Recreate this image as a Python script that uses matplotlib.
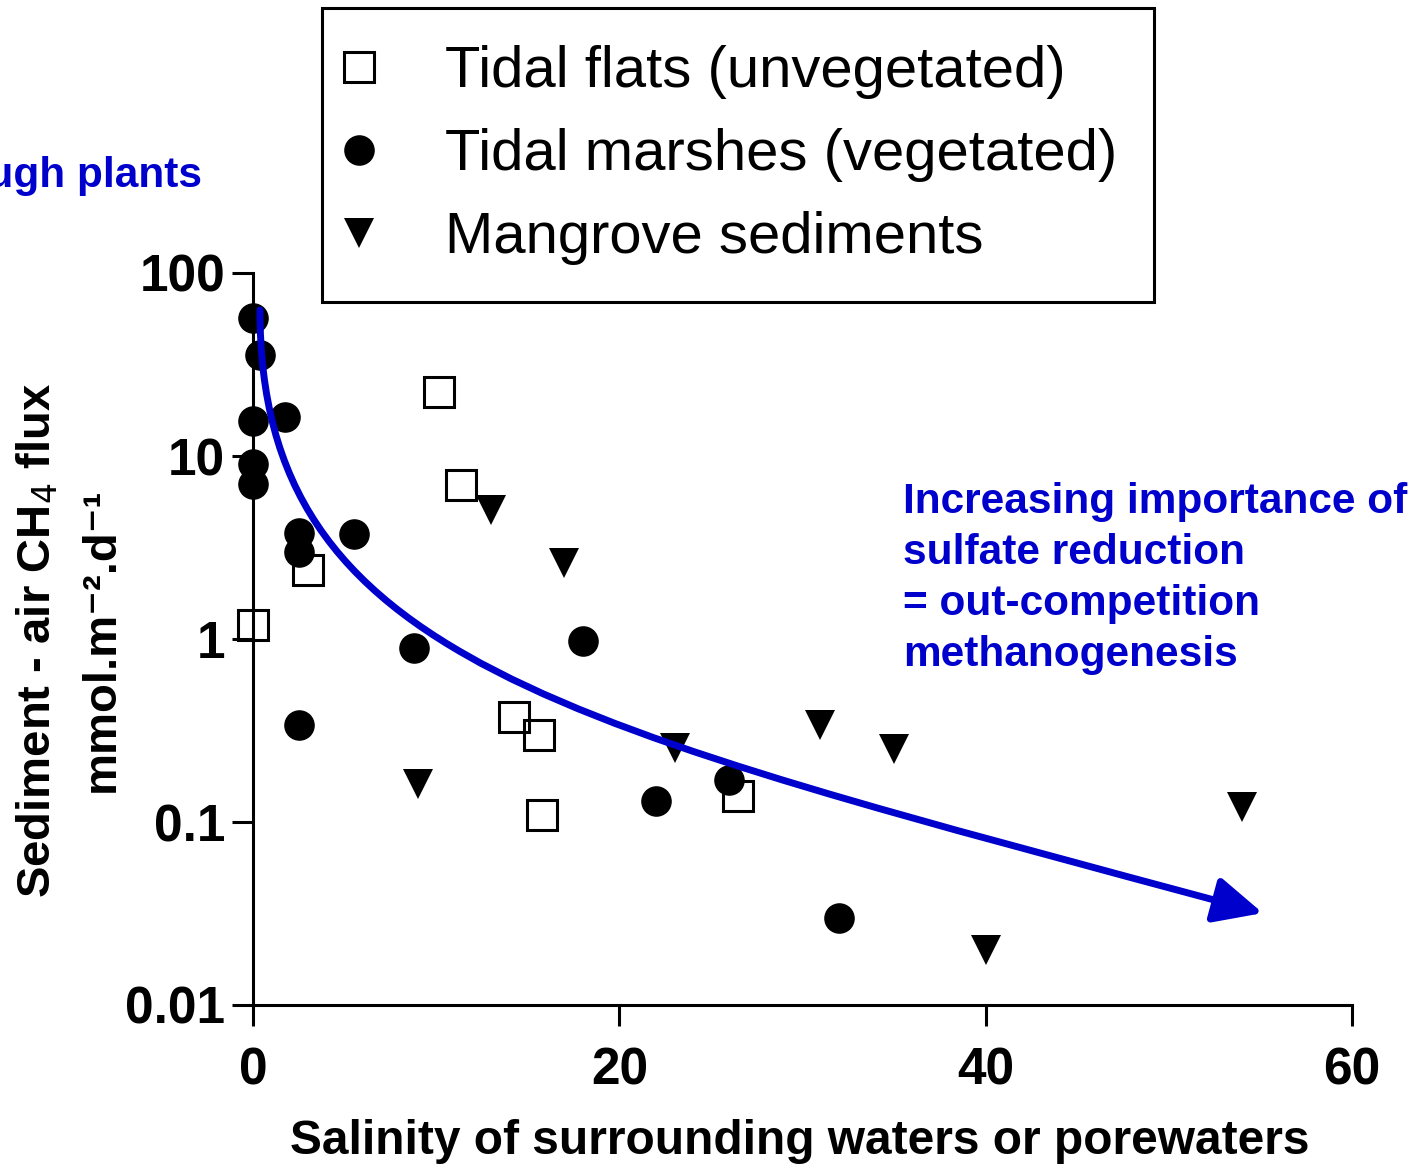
import matplotlib
matplotlib.use("Agg")
import matplotlib.pyplot as plt
from matplotlib.lines import Line2D
from matplotlib.patches import FancyArrowPatch
from matplotlib.path import Path
from matplotlib.ticker import FixedLocator, FixedFormatter, NullLocator

plt.rcParams["font.family"] = ["Liberation Sans", "DejaVu Sans"]

BLUE = "#0000CC"

# salinity / CH4 flux (mmol m-2 d-1)
flats_sal = [0.0, 10.15, 11.35, 3.0, 14.25, 15.6, 15.8, 26.5]
flats_flux = [1.19, 22.4, 6.95, 2.38, 0.375, 0.30, 0.109, 0.139]

marsh_sal = [0.0, 0.4, 1.75, 0.0, 0.0, 0.0, 2.5, 2.5, 5.5, 8.8, 18.0, 2.5, 22.0, 26.0, 32.0]
marsh_flux = [56.8, 35.7, 16.3, 15.5, 9.0, 7.0, 3.8, 3.0, 3.75, 0.89, 0.975, 0.34, 0.13, 0.17, 0.030]

mangrove_sal = [13.0, 17.0, 9.0, 23.05, 30.95, 35.0, 54.0, 40.0]
mangrove_flux = [5.07, 2.60, 0.161, 0.254, 0.339, 0.25, 0.121, 0.020]

labels = ["Tidal flats (unvegetated)", "Tidal marshes (vegetated)", "Mangrove sediments"]

# trend arrow as a cubic bezier (salinity, flux)
trend_sal = [0.38, 0.38, 16.65, 55.13]
trend_flux = [62.8, 0.767, 0.348, 0.0318]

x_ticks = [0, 20, 40, 60]
y_ticks = [0.01, 0.1, 1, 10, 100]
y_ticklabels = ["0.01", "0.1", "1", "10", "100"]

W, H = 1425, 1169


def fx(x):
    return x / W


def fy(y):
    return 1 - y / H


fig = plt.figure(figsize=(W / 100, H / 100), dpi=100)
ax = fig.add_axes([fx(253), fy(1005), fx(1352) - fx(253), fy(273) - fy(1005)])

ms = 21
ax.plot(flats_sal, flats_flux, ls="none", marker="s", ms=ms, mfc="none",
        mec="black", mew=2.2, clip_on=False, zorder=3)
ax.plot(marsh_sal, marsh_flux, ls="none", marker="o", ms=ms, mfc="black",
        mec="black", clip_on=False, zorder=4)
ax.plot(mangrove_sal, mangrove_flux, ls="none", marker="v", ms=ms, mfc="black",
        mec="black", mew=0, clip_on=False, zorder=4)

ax.set_yscale("log")
ax.set_xlim(0, 60)
ax.set_ylim(0.01, 100)

codes = [Path.MOVETO, Path.CURVE4, Path.CURVE4, Path.CURVE4]
trend = Path(list(zip(trend_sal, trend_flux)), codes)
arrow = FancyArrowPatch(path=trend, arrowstyle="-|>,head_length=2.95,head_width=1.4",
                        mutation_scale=10, color=BLUE, lw=5, transform=ax.transData,
                        zorder=6, clip_on=False)
ax.add_patch(arrow)

for side in ["top", "right"]:
    ax.spines[side].set_visible(False)
for side in ["left", "bottom"]:
    ax.spines[side].set_linewidth(2.2)

ax.xaxis.set_major_locator(FixedLocator(x_ticks))
ax.yaxis.set_major_locator(FixedLocator(y_ticks))
ax.yaxis.set_major_formatter(FixedFormatter(y_ticklabels))
ax.yaxis.set_minor_locator(NullLocator())
ax.tick_params(axis="both", direction="out", length=15, width=2.2, labelsize=37)
ax.tick_params(axis="y", pad=5)
ax.tick_params(axis="x", pad=15)
for lab in ax.get_xticklabels() + ax.get_yticklabels():
    lab.set_fontweight("bold")

fig.text(fx(800), fy(1142), "Salinity of surrounding waters or porewaters",
         ha="center", va="center", fontsize=34.5, fontweight="bold")
# y label in two lines
fig.text(fx(38), fy(640), "Sediment - air CH$_4$ flux",
         ha="center", va="center", rotation=90, fontsize=34, fontweight="bold")
fig.text(fx(102), fy(640), "mmol.m\u207b\u00b2.d\u207b\u00b9",
         ha="center", va="center", rotation=90, fontsize=34, fontweight="bold")

fig.text(fx(903), fy(482),
         "Increasing importance of\nsulfate reduction\n= out-competition\nmethanogenesis",
         ha="left", va="top", fontsize=30.5, fontweight="bold", color=BLUE,
         linespacing=1.36)
fig.text(fx(202), fy(176), "through plants", ha="right", va="center",
         fontsize=30.5, fontweight="bold", color=BLUE)

handles = [
    Line2D([], [], ls="none", marker="s", ms=ms, mfc="none", mec="black", mew=2.2),
    Line2D([], [], ls="none", marker="o", ms=ms, mfc="black", mec="black"),
    Line2D([], [], ls="none", marker="v", ms=ms, mfc="black", mec="black", mew=0),
]
leg = ax.legend(handles, labels, loc="upper left", bbox_to_anchor=(fx(322), fy(8)),
                bbox_transform=fig.transFigure, borderaxespad=0, fontsize=41.8,
                frameon=True, fancybox=False, edgecolor="black", framealpha=1,
                handlelength=0.0, handletextpad=1.48, labelspacing=0.5,
                borderpad=0.64)
leg.get_frame().set_linewidth(2.2)
leg.set_zorder(10)

fig.savefig("out.png", dpi=100)
